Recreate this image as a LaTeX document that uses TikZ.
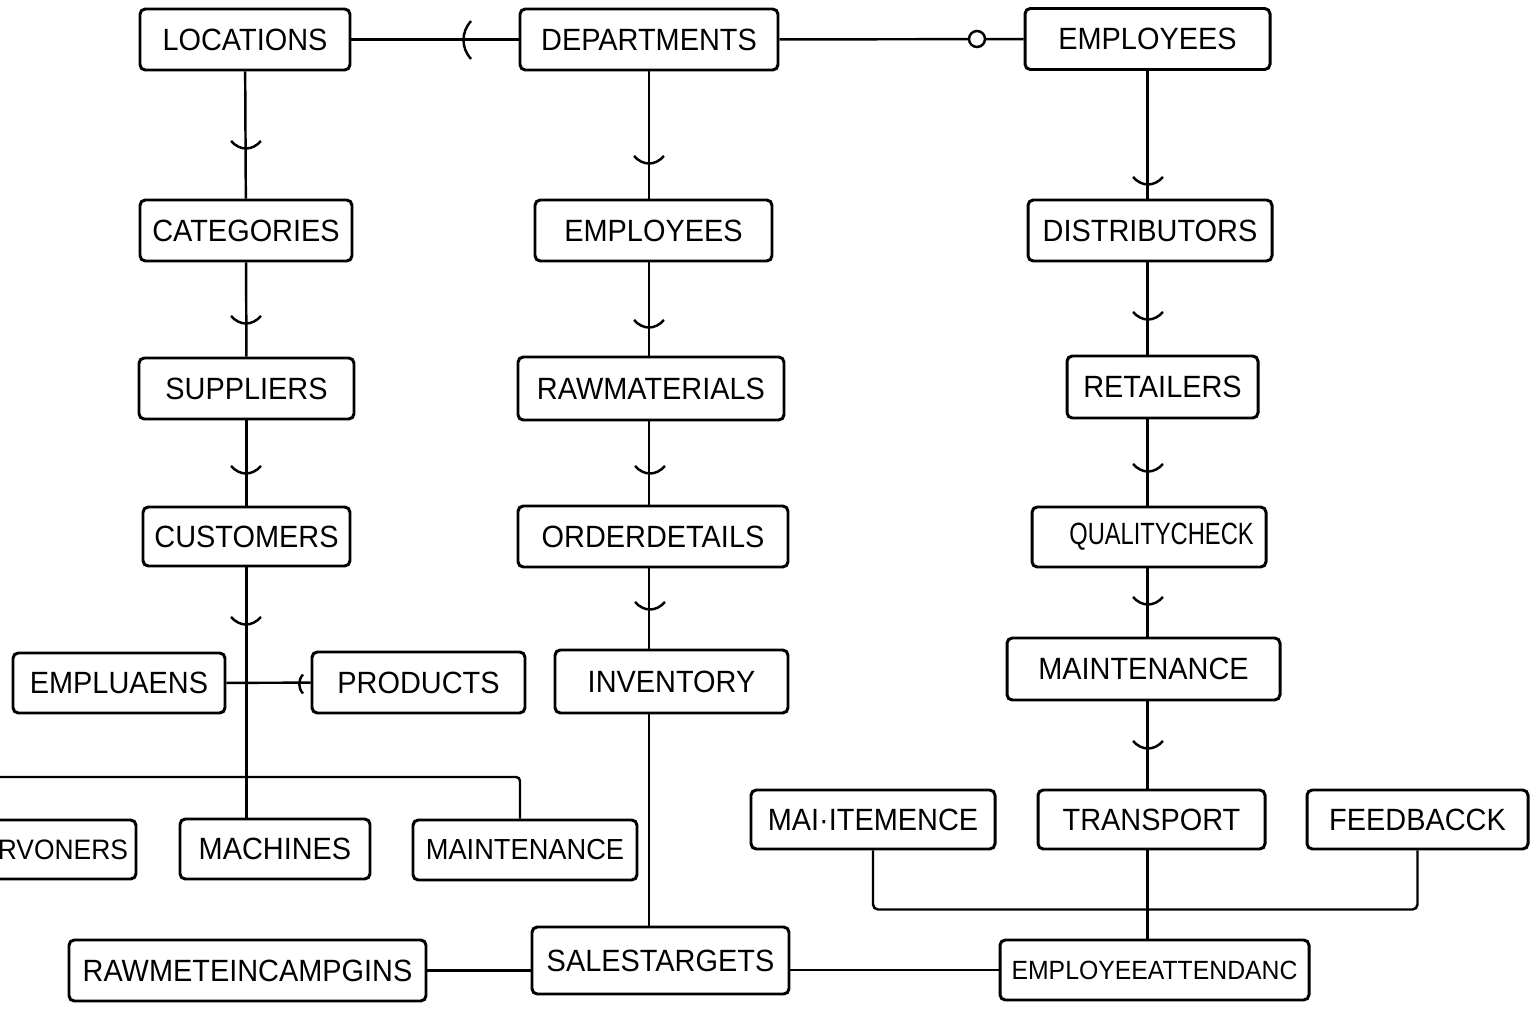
\documentclass[tikz,border=0pt]{standalone}
\usepackage{fontspec}
\setmainfont{Liberation Sans}[FakeStretch=0.94]
\usetikzlibrary{calc}
\def\unitpx{0.02cm}
\tikzset{
	tbl/.style={draw, line width=1.7pt, rounded corners=3pt, minimum height=61*\unitpx, inner sep=0pt, font=\fontsize{17.5}{20}\selectfont},
	link/.style={line width=1.4pt},
	cup/.pic={\draw[link] (-15,-6) .. controls (-6,4) and (6,4) .. (15,-6);},
	paren/.pic={\draw[link] (6,-19) .. controls (-4,-8) and (-4,8) .. (6,19);},
}
\begin{document}
\begin{tikzpicture}[x=0.02cm, y=-0.02cm]
	\useasboundingbox (0,0) rectangle (1536,1024);
	% top row
	\node[tbl, minimum width=210*\unitpx] (loc) at (245,39.5) {LOCATIONS};
	\node[tbl, minimum width=258*\unitpx] (dep) at (649,39.5) {DEPARTMENTS};
	\node[tbl, minimum width=245*\unitpx] (emp) at (1147.5,39) {EMPLOYEES};
	\node[tbl, minimum width=212*\unitpx] (cat) at (246,230.5) {CATEGORIES};
	\node[tbl, minimum width=237*\unitpx] (empm) at (653.5,230.5) {EMPLOYEES};
	\node[tbl, minimum width=244*\unitpx] (dist) at (1150,230.5) {DISTRIBUTORS};
	\node[tbl, minimum width=215*\unitpx] (sup) at (246.5,388.5) {SUPPLIERS};
	\node[tbl, minimum width=266*\unitpx, minimum height=63*\unitpx] (raw) at (651,388.5) {RAWMATERIALS};
	\node[tbl, minimum width=191*\unitpx, minimum height=62*\unitpx] (ret) at (1162.5,387) {RETAILERS};
	\node[tbl, minimum width=207*\unitpx, minimum height=59*\unitpx] (cus) at (246.5,536.5) {CUSTOMERS};
	\node[tbl, minimum width=270*\unitpx] (ord) at (653,536.5) {ORDERDETAILS};
	\node[tbl, minimum width=234*\unitpx, minimum height=60*\unitpx] (qual) at (1149,537) {\hspace*{0.5cm}\scalebox{0.82}[1]{QUALITYCHECK}};
	\node[tbl, minimum width=212*\unitpx, minimum height=60*\unitpx] (empl) at (119,683) {EMPLUAENS};
	\node[tbl, minimum width=213*\unitpx] (prod) at (418.5,682.5) {PRODUCTS};
	\node[tbl, minimum width=233*\unitpx, minimum height=63*\unitpx] (inv) at (671.5,681.5) {INVENTORY};
	\node[tbl, minimum width=273*\unitpx, minimum height=62*\unitpx] (mntr) at (1143.5,669) {MAINTENANCE};
	% bottom rows
	\node[tbl, text width=140*\unitpx, align=right, inner xsep=8*\unitpx, minimum height=59*\unitpx, font=\fontsize{16}{19}\selectfont] (rvo) at (58,849.5) {RVONERS};
	\node[tbl, minimum width=190*\unitpx, minimum height=60*\unitpx] (mach) at (275,849) {MACHINES};
	\node[tbl, minimum width=224*\unitpx, minimum height=60*\unitpx, font=\fontsize{16.5}{19}\selectfont] (mntl) at (525,850) {MAINTENANCE};
	\node[tbl, minimum width=244*\unitpx, minimum height=59*\unitpx] (mait) at (873,819.5) {MAI·ITEMENCE};
	\node[tbl, minimum width=227*\unitpx, minimum height=59*\unitpx] (trn) at (1151.5,819.5) {TRANSPORT};
	\node[tbl, minimum width=221*\unitpx, minimum height=59*\unitpx] (feed) at (1417.5,819.5) {FEEDBACCK};
	\node[tbl, minimum width=357*\unitpx] (camp) at (247.5,970.5) {RAWMETEINCAMPGINS};
	\node[tbl, minimum width=257*\unitpx, minimum height=67*\unitpx] (sal) at (660.5,960.5) {SALESTARGETS};
	\node[tbl, minimum width=309*\unitpx, minimum height=60*\unitpx, font=\fontsize{15}{18}\selectfont] (att) at (1154.5,970) {EMPLOYEEATTENDANC};

	\draw[link] (loc) -- (dep);
	\draw[link] (dep) -- (emp);
	\draw[link] (loc) -- (cat);
	\draw[link] (cat) -- (sup);
	\draw[link] (sup) -- (cus);
	\draw[link] (cus.south) -- (mach.north -| cus.south);
	\foreach \a/\b in {dep/empm, empm/raw, raw/ord, ord/inv, inv/sal}
	  \draw[link] (\a.south -| dep) -- (\b.north -| dep);
	\foreach \a/\b in {emp/dist, dist/ret, ret/qual, qual/mntr, mntr/trn, trn/att}
	  \draw[link] (\a.south -| emp) -- (\b.north -| emp);
	\draw[link] (empl) -- (prod);
	\coordinate (lft) at (0,777);
	\draw[link, rounded corners=4*\unitpx] (lft) -| ([xshift=-5*\unitpx]mntl.north);
	\draw[link, rounded corners=5*\unitpx] (mait.south) |- ($(feed.south)+(0,59)$) -- (feed.south);
	\draw[link] (camp.east) -- (camp.east -| sal.west);
	\draw[link] (sal.east |- att.west) -- (att.west);

	\foreach \x/\y in {246/147, 649/162, 1148/183, 246/322, 649/326, 1148/318, 246/472, 650/472, 1148/470, 246/623, 650/608, 1148/603, 1148/747}
	  \pic at (\x,\y) {cup};
	\pic at (465,40) {paren};
	\pic[scale=0.5] at (300,684) {paren};
	\draw[link, fill=white] (977,39) circle (0.16cm);
\end{tikzpicture}
\end{document}
